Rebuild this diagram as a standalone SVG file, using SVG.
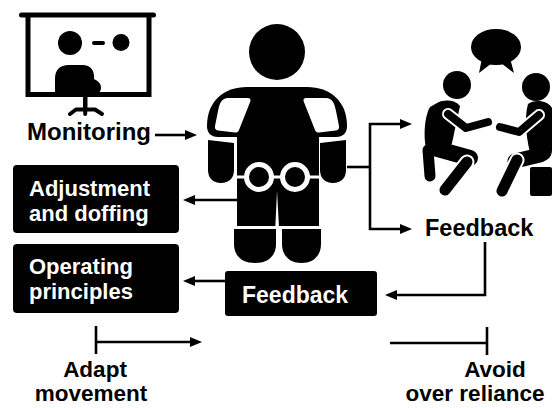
<svg xmlns="http://www.w3.org/2000/svg" width="557" height="408" viewBox="0 0 557 408">
  <style>
    .lbl { font-family: "Liberation Sans", Arial, sans-serif; font-weight: bold; fill: #000; }
    .inv { font-family: "Liberation Sans", Arial, sans-serif; font-weight: bold; fill: #fff; }
    .box { fill: #000; }
    .conn { fill: none; stroke: #000; stroke-width: 2.6; stroke-linejoin: miter; }
    .ink { fill: #000; }
    .gap { fill: #fff; }
  </style>
  <defs>
    <marker id="arrow" viewBox="0 0 12 10" markerWidth="12" markerHeight="10" refX="2" refY="5" orient="auto" markerUnits="userSpaceOnUse">
      <path d="M0,0 L12,5 L0,10 Z" fill="#000"/>
    </marker>
  </defs>
  <rect width="557" height="408" fill="#fff"/>

  <!-- Monitoring: presenter at a screen -->
  <g id="monitoring">
    <rect x="19" y="12.5" width="137" height="5" rx="2.5" class="ink"/>
    <path d="M28,17 V94.5 H149 V17" fill="none" stroke="#000" stroke-width="5"/>
    <circle cx="70" cy="43" r="12" class="ink"/>
    <rect x="92" y="41" width="13" height="4" rx="2" class="ink"/>
    <circle cx="121" cy="42.5" r="8.5" class="ink"/>
    <path d="M55,95 L55,79 Q55,65 69,65 L84,65 Q93,66 94,75 L94,79 Q101,82 101,87.5 Q101,93 96,93 L96,95 Z" class="ink"/>
    <rect x="83" y="96" width="4.5" height="12" class="ink"/>
    <path d="M70,114 L76,109.5 H95 L102,114 M85.2,109.5 V114" fill="none" stroke="#000" stroke-width="4" stroke-linecap="round" stroke-linejoin="round"/>
    <text x="27" y="140" class="lbl" font-size="24">Monitoring</text>
  </g>

  <!-- Exoskeleton wearer -->
  <g id="exoskeleton">
    <circle cx="277" cy="52" r="28" class="ink"/>
    <!-- shoulder band -->
    <path d="M207,126 C207,101 224,87 247,87 L307,87 C330,87 347,101 347,126 C347,133 343,137 336,137 L218,137 C211,137 207,133 207,126 Z" class="ink"/>
    <!-- torso and thighs -->
    <rect x="237" y="100" width="82" height="127" class="ink"/>
    <!-- shoulder pads -->
    <path d="M228,98 L248,98 C250,98 251,99.5 250.3,101.5 L239,130 C238.3,132 237,132.5 235,132.5 L218,130.5 C215.5,130 214.5,128.5 215,126 L218,111 C219.5,103 222,98 228,98 Z" class="gap"/>
    <path d="M326,98 L306,98 C304,98 303,99.5 303.7,101.5 L315,130 C315.7,132 317,132.5 319,132.5 L336,130.5 C338.5,130 339.5,128.5 339,126 L336,111 C334.5,103 332,98 326,98 Z" class="gap"/>
    <!-- arms -->
    <path d="M208,140 L234,143 L234,170 C234,178 229,183 221,183 C213,183 208,178 208,170 Z" class="ink"/>
    <path d="M346,140 L320,143 L320,170 C320,178 325,183 333,183 C341,183 346,178 346,170 Z" class="ink"/>
    <!-- hip joints -->
    <line x1="237" y1="177" x2="319" y2="177" stroke="#fff" stroke-width="3"/>
    <circle cx="259" cy="177" r="12.5" fill="#000" stroke="#fff" stroke-width="5"/>
    <circle cx="295" cy="177" r="12.5" fill="#000" stroke="#fff" stroke-width="5"/>
    <!-- leg split and knee line -->
    <polygon points="277,191 275.3,227 279,227" class="gap"/>
    <rect x="235" y="226" width="86" height="3" class="gap"/>
    <!-- lower legs -->
    <path d="M234,229 H276 V244 C276,256 268,263 255,263 C242,263 234,256 234,244 Z" class="ink"/>
    <path d="M282,229 H321 V244 C321,256 313,263 301.5,263 C290,263 282,256 282,244 Z" class="ink"/>
  </g>

  <!-- Feedback conversation -->
  <g id="conversation">
    <ellipse cx="496" cy="47" rx="25" ry="18" class="ink"/>
    <path d="M482,58 L479,73 L492,63 Z" class="ink"/>
    <path d="M510,58 L514,73 L501,63 Z" class="ink"/>
    <!-- left person, crouching -->
    <circle cx="457" cy="85" r="14" class="ink"/>
    <path d="M437,103 C445,99 455,100 460,106 L452,143 C450,150 440,152 432,150 L426,148 C423,135 425,115 430,107 Z" class="ink"/>
    <line x1="434" y1="148" x2="470" y2="158" stroke="#000" stroke-width="16" stroke-linecap="round"/>
    <line x1="428" y1="150" x2="430" y2="176" stroke="#000" stroke-width="11" stroke-linecap="round"/>
    <line x1="467" y1="162" x2="445" y2="190" stroke="#fff" stroke-width="15" stroke-linecap="round"/>
    <line x1="467" y1="162" x2="445" y2="190" stroke="#000" stroke-width="11" stroke-linecap="round"/>
    <path d="M448,114 L466,128 L488,122" fill="none" stroke="#fff" stroke-width="12" stroke-linecap="round" stroke-linejoin="round"/>
    <path d="M448,114 L466,128 L488,122" fill="none" stroke="#000" stroke-width="8" stroke-linecap="round" stroke-linejoin="round"/>
    <!-- right person, seated -->
    <circle cx="536" cy="87" r="14" class="ink"/>
    <rect x="530" y="167" width="22" height="29" rx="2" class="ink"/>
    <path d="M528,104 C534,99 548,100 552,108 L552,150 C552,158 546,162 538,162 L532,160 C526,140 524,118 528,104 Z" class="ink"/>
    <line x1="540" y1="155" x2="515" y2="161" stroke="#000" stroke-width="15" stroke-linecap="round"/>
    <line x1="517" y1="160" x2="502" y2="191" stroke="#fff" stroke-width="15" stroke-linecap="round"/>
    <line x1="517" y1="160" x2="502" y2="191" stroke="#000" stroke-width="11" stroke-linecap="round"/>
    <path d="M539,115 L519,132 L500,127" fill="none" stroke="#fff" stroke-width="12" stroke-linecap="round" stroke-linejoin="round"/>
    <path d="M539,115 L519,132 L500,127" fill="none" stroke="#000" stroke-width="8" stroke-linecap="round" stroke-linejoin="round"/>
    <text x="425" y="236" class="lbl" font-size="23.5">Feedback</text>
  </g>

  <g id="adjustment">
    <rect x="13" y="165" width="166" height="68" rx="4" class="box"/>
    <text x="29" y="196" class="inv" font-size="22">Adjustment</text>
    <text x="29" y="221" class="inv" font-size="22">and doffing</text>
  </g>

  <g id="operating">
    <rect x="13" y="244" width="166" height="69" rx="4" class="box"/>
    <text x="29" y="274" class="inv" font-size="22">Operating</text>
    <text x="29" y="299" class="inv" font-size="22">principles</text>
  </g>

  <g id="feedback-box">
    <rect x="225" y="271" width="152" height="45" rx="3" class="box"/>
    <text x="242" y="303" class="inv" font-size="23">Feedback</text>
  </g>

  <g id="adapt">
    <text x="95" y="377" class="lbl" font-size="22.5" text-anchor="middle">Adapt</text>
    <text x="91" y="401" class="lbl" font-size="22.5" text-anchor="middle">movement</text>
  </g>

  <g id="avoid">
    <text x="495" y="377" class="lbl" font-size="22.5" text-anchor="middle">Avoid</text>
    <text x="475" y="401" class="lbl" font-size="22.5" text-anchor="middle">over reliance</text>
  </g>

  <g id="connectors">
    <path d="M155,135 H187" class="conn" marker-end="url(#arrow)"/>
    <path d="M238,200 H193" class="conn" marker-end="url(#arrow)"/>
    <path d="M225,281 H193" class="conn" marker-end="url(#arrow)"/>
    <path d="M347,167 H370" class="conn"/>
    <path d="M370,167 V124 H402" class="conn" marker-end="url(#arrow)"/>
    <path d="M370,167 V229 H402" class="conn" marker-end="url(#arrow)"/>
    <path d="M485,242 V295 H395" class="conn" marker-end="url(#arrow)"/>
    <path d="M96,326 V354" class="conn"/>
    <path d="M96,342 H192" class="conn" marker-end="url(#arrow)"/>
    <path d="M390,343 H487" class="conn"/>
    <path d="M487,327 V355" class="conn"/>
  </g>
</svg>
